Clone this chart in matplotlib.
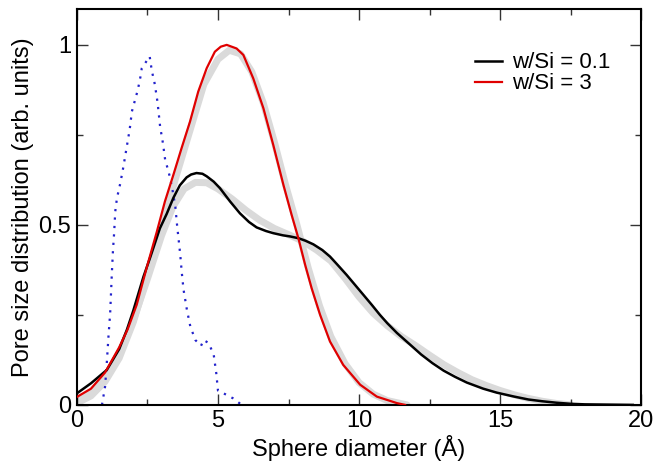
import matplotlib
matplotlib.use("Agg")
import matplotlib.pyplot as plt
from matplotlib.ticker import MultipleLocator

plt.rcParams['font.family'] = ['Liberation Sans', 'DejaVu Sans']

# w/Si = 0.1 (black)
x_low = [0.0, 0.5, 1.06, 1.5, 1.77, 2.0, 2.36, 2.6, 2.94, 3.18, 3.42, 3.65, 3.89,
         4.05, 4.24, 4.45, 4.6, 4.85, 5.07, 5.43, 5.78, 6.1, 6.37, 6.7, 6.96,
         7.3, 7.55, 7.85, 8.1, 8.38, 8.7, 8.97, 9.25, 9.56, 9.85, 10.15, 10.45,
         10.74, 11.0, 11.34, 11.8, 12.2, 12.6, 13.0, 13.4, 13.82, 14.4, 14.88,
         15.5, 16.0, 16.5, 17.0, 17.5, 18.0, 19.7]
y_low = [0.032, 0.06, 0.097, 0.155, 0.208, 0.262, 0.356, 0.41, 0.49, 0.53, 0.575,
         0.61, 0.632, 0.64, 0.644, 0.642, 0.635, 0.62, 0.602, 0.565, 0.532, 0.508,
         0.493, 0.483, 0.477, 0.471, 0.468, 0.463, 0.456, 0.446, 0.43, 0.412,
         0.388, 0.361, 0.334, 0.306, 0.278, 0.25, 0.227, 0.2, 0.168, 0.14, 0.116,
         0.095, 0.078, 0.062, 0.045, 0.034, 0.023, 0.015, 0.01, 0.006, 0.003,
         0.0015, 0.0]

# w/Si = 3 (red)
x_high = [0.0, 0.5, 1.0, 1.5, 1.8, 2.12, 2.47, 2.83, 3.12, 3.42, 3.71, 4.01, 4.3,
          4.6, 4.89, 5.1, 5.31, 5.66, 5.9, 6.25, 6.61, 6.96, 7.32, 7.61, 7.85,
          8.09, 8.32, 8.62, 8.97, 9.44, 10.04, 10.63, 11.34, 11.63]
y_high = [0.022, 0.045, 0.09, 0.16, 0.21, 0.278, 0.38, 0.48, 0.565, 0.639, 0.713,
          0.787, 0.87, 0.935, 0.981, 0.995, 1.0, 0.99, 0.972, 0.907, 0.824, 0.722,
          0.611, 0.528, 0.463, 0.389, 0.324, 0.25, 0.176, 0.111, 0.056, 0.023,
          0.005, 0.0]

# grey bands (other runs)
x_grey_low = [0.0, 0.5, 1.0, 1.5, 2.0, 2.5, 3.0, 3.4, 3.8, 4.2, 4.6, 5.0, 5.5,
              6.0, 6.5, 7.0, 7.5, 8.0, 8.5, 9.0, 9.5, 10.0, 10.5, 11.0, 11.5,
              12.0, 12.5, 13.0, 13.5, 14.0, 14.5, 15.0, 15.5, 16.0, 16.5, 17.0, 17.5]
y_grey_low = [0.01, 0.035, 0.075, 0.14, 0.235, 0.35, 0.47, 0.55, 0.6, 0.618, 0.617,
              0.6, 0.572, 0.54, 0.512, 0.49, 0.473, 0.455, 0.43, 0.4, 0.352, 0.3,
              0.255, 0.22, 0.19, 0.165, 0.138, 0.112, 0.09, 0.07, 0.054, 0.04,
              0.028, 0.018, 0.01, 0.004, 0.0]
x_grey_high = [0.0, 0.5, 1.0, 1.5, 2.0, 2.5, 3.0, 3.5, 4.0, 4.5, 5.0, 5.4, 5.8,
               6.2, 6.6, 7.0, 7.4, 7.8, 8.2, 8.6, 9.0, 9.5, 10.0, 10.5, 11.0, 11.7]
y_grey_high = [0.005, 0.025, 0.065, 0.13, 0.23, 0.36, 0.49, 0.63, 0.76, 0.89, 0.96,
               0.985, 0.975, 0.925, 0.84, 0.73, 0.61, 0.5, 0.38, 0.275, 0.19, 0.115,
               0.062, 0.03, 0.012, 0.0]

# blue dotted reference
x_ref = [0.89, 1.0, 1.06, 1.12, 1.18, 1.24, 1.28, 1.32, 1.36, 1.42, 1.54, 1.65,
         1.77, 1.87, 1.95, 2.03, 2.16, 2.25, 2.3, 2.58, 2.66, 2.74, 2.81, 2.86,
         2.95, 3.05, 3.13, 3.25, 3.37, 3.49, 3.55, 3.66, 3.72, 3.78, 3.9, 4.02,
         4.2, 4.4, 4.49, 4.67, 4.85, 4.94, 5.0, 5.3, 5.54, 5.84]
y_ref = [0.0, 0.051, 0.116, 0.19, 0.255, 0.366, 0.43, 0.477, 0.537, 0.574, 0.616,
         0.662, 0.718, 0.764, 0.815, 0.838, 0.875, 0.91, 0.935, 0.968, 0.926, 0.90,
         0.866, 0.84, 0.773, 0.727, 0.68, 0.648, 0.606, 0.55, 0.50, 0.42, 0.366,
         0.32, 0.264, 0.218, 0.18, 0.164, 0.18, 0.172, 0.139, 0.088, 0.04, 0.028,
         0.018, 0.0]

fig = plt.figure(figsize=(6.57, 4.67), dpi=100)
ax = fig.add_axes([0.117, 0.133, 0.859, 0.848])

ax.plot(x_grey_low, y_grey_low, color='#dadada', lw=5, solid_capstyle='round', zorder=1)
ax.plot(x_grey_high, y_grey_high, color='#dadada', lw=5, solid_capstyle='round', zorder=1)
ax.plot(x_ref, y_ref, color='#2222cc', lw=1.6, linestyle=(0, (1, 2.8)), zorder=2)
ax.plot(x_low, y_low, color='black', lw=1.8, label='w/Si = 0.1', zorder=3)
ax.plot(x_high, y_high, color='#e00000', lw=1.6, label='w/Si = 3', zorder=3)

ax.set_xlim(0, 20)
ax.set_ylim(0, 1.1)
ax.xaxis.set_major_locator(MultipleLocator(5))
ax.xaxis.set_minor_locator(MultipleLocator(2.5))
ax.yaxis.set_minor_locator(MultipleLocator(0.25))
ax.set_yticks([0, 0.5, 1])
ax.set_yticklabels(['0', '0.5', '1'])
ax.tick_params(which='both', direction='in', top=True, right=True, labelsize=17,
               width=1.0, color='#333333')
ax.tick_params(which='major', length=8, pad=4)
ax.tick_params(which='minor', length=4)
for s in ax.spines.values():
    s.set_linewidth(1.5)

ax.set_xlabel('Sphere diameter (Å)', fontsize=17, labelpad=2)
ax.set_ylabel('Pore size distribution (arb. units)', fontsize=17, labelpad=3)

ax.legend(loc='upper left', bbox_to_anchor=(0.706, 0.89), frameon=False,
          fontsize=16, handlelength=1.2, handletextpad=0.45, labelspacing=0.0,
          borderaxespad=0, borderpad=0)

fig.savefig('out.png', dpi=100)
